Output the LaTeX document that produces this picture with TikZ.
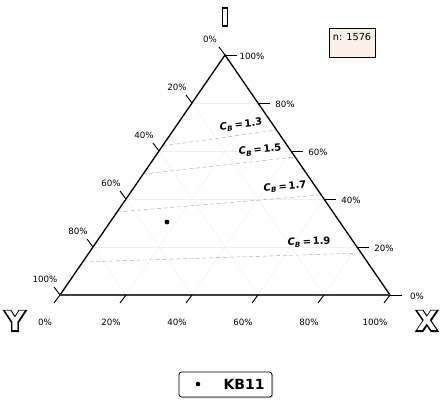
\documentclass[tikz,border=0pt]{standalone}
\usepackage{fontspec}
\setmainfont{DejaVu Sans}
\newfontfamily\heavyfont[FakeBold=10]{DejaVu Sans Bold}
\usetikzlibrary{calc,positioning,shadows}
\definecolor{linen}{HTML}{FAF0E6}

\begin{document}
\begin{tikzpicture}[x=0.75pt,y=-0.75pt,
  every node/.style={inner sep=0pt},
  ticklabel/.style={font=\fontsize{6.5}{7}\selectfont},
  isoline/.style={gray!70,densely dashed,line width=0.3pt},
  isolabel/.style={font=\fontsize{7.5}{8}\selectfont\bfseries},
  cornerlabel/.style={font=\fontsize{20}{22}\selectfont\bfseries}]
\useasboundingbox (0,0) rectangle (443,404);
\coordinate (TopCorner) at (225,55);
\coordinate (LeftCorner) at (60,295);
\coordinate (RightCorner) at (390,295);
% faint grid
\foreach \f in {0.2,0.4,0.6,0.8} {
  \draw [black!6,line width=0.3pt] ($(LeftCorner)!\f!(RightCorner)$) -- ($(TopCorner)!\f!(RightCorner)$);
  \draw [black!6,line width=0.3pt] ($(LeftCorner)!\f!(RightCorner)$) -- ($(LeftCorner)!\f!(TopCorner)$);
  \draw [black!6,line width=0.3pt] ($(TopCorner)!\f!(LeftCorner)$) -- ($(TopCorner)!\f!(RightCorner)$);
}
% iso lines
\coordinate (IsoLa) at ($(TopCorner)!0.379!(LeftCorner)$);
\coordinate (IsoRa) at ($(TopCorner)!0.3125!(RightCorner)$);
\coordinate (IsoLb) at ($(TopCorner)!0.496!(LeftCorner)$);
\coordinate (IsoRb) at ($(TopCorner)!0.425!(RightCorner)$);
\coordinate (IsoLc) at ($(TopCorner)!0.654!(LeftCorner)$);
\coordinate (IsoRc) at ($(TopCorner)!0.583!(RightCorner)$);
\coordinate (IsoLd) at ($(TopCorner)!0.8625!(LeftCorner)$);
\coordinate (IsoRd) at ($(TopCorner)!0.825!(RightCorner)$);
\draw [isoline] (IsoLa) -- (IsoRa);
\draw [isoline] (IsoLb) -- (IsoRb);
\draw [isoline] (IsoLc) -- (IsoRc);
\draw [isoline] (IsoLd) -- (IsoRd);
\node [isolabel,rotate=7] (IsoTexta) at (241,125) {\textit{C}\textsubscript{\textit{B}}\,=\,1.3};
\node [isolabel,rotate=6] (IsoTextb) at (260,150) {\textit{C}\textsubscript{\textit{B}}\,=\,1.5};
\node [isolabel,rotate=5] (IsoTextc) at (285,187) {\textit{C}\textsubscript{\textit{B}}\,=\,1.7};
\node [isolabel,rotate=3] (IsoTextd) at (309,242) {\textit{C}\textsubscript{\textit{B}}\,=\,1.9};
% triangle
\draw [line width=1pt] (LeftCorner) -- (TopCorner) -- (RightCorner);
\draw [line width=1.5pt,black!75] (LeftCorner) -- (RightCorner);
% ticks
\foreach \f/\lab in {0/0,0.2/20,0.4/40,0.6/60,0.8/80,1/100} {
  \draw [line width=0.7pt] ($(LeftCorner)!\f!(RightCorner)$) -- ++(-6,8);
  \node [ticklabel] (BottomLab\lab) at ($(LeftCorner)!\f!(RightCorner) + (-15,27)$) {\lab\%};
  \draw [line width=0.7pt] ($(TopCorner)!\f!(LeftCorner)$) -- ++(-6,-8);
  \node [ticklabel] (LeftLab\lab) at ($(TopCorner)!\f!(LeftCorner) + (-15,-16)$) {\lab\%};
  \pgfmathtruncatemacro{\rlab}{100-\lab}
  \draw [line width=0.7pt] ($(TopCorner)!\f!(RightCorner)$) -- ++(12,0);
  \node [ticklabel] (RightLab\lab) at ($(TopCorner)!\f!(RightCorner) + (27,1)$) {\rlab\%};
}
% data point
\node [circle,fill=black,minimum size=3.6pt] (KBPoint) at (167,222) {};
% corner labels
\node [draw,line width=1.1pt,fill=white,minimum width=4pt,minimum height=13.5pt] (TopLabel) at (225,17) {};
\node [cornerlabel] (YLabel) at (15,321) {\heavyfont Y};
\node [cornerlabel,text=white] at (YLabel) {Y};
\node [cornerlabel] (XLabel) at (427,321) {\heavyfont X};
\node [cornerlabel,text=white] at (XLabel) {X};
% count box
\node [draw,fill=linen,line width=0.6pt,minimum width=34.5pt,inner ysep=2pt,text height=7pt,text depth=10.75pt,font=\fontsize{7.3}{8}\selectfont] (CountBox) at (352,42.5) {n: 1576};
% legend
\node [draw,fill=white,rounded corners=2pt,drop shadow={shadow xshift=1pt,shadow yshift=-1pt,opacity=0.4},line width=0.6pt,minimum width=69.75pt,minimum height=18.75pt] (LegendBox) at (225.5,384.5) {};
\node [circle,fill=black,minimum size=3.4pt] (LegendDot) at (198,384) {};
\node [font=\fontsize{10.5}{12}\selectfont\bfseries] (LegendText) at (244,384) {KB11};
\end{tikzpicture}
\end{document}
